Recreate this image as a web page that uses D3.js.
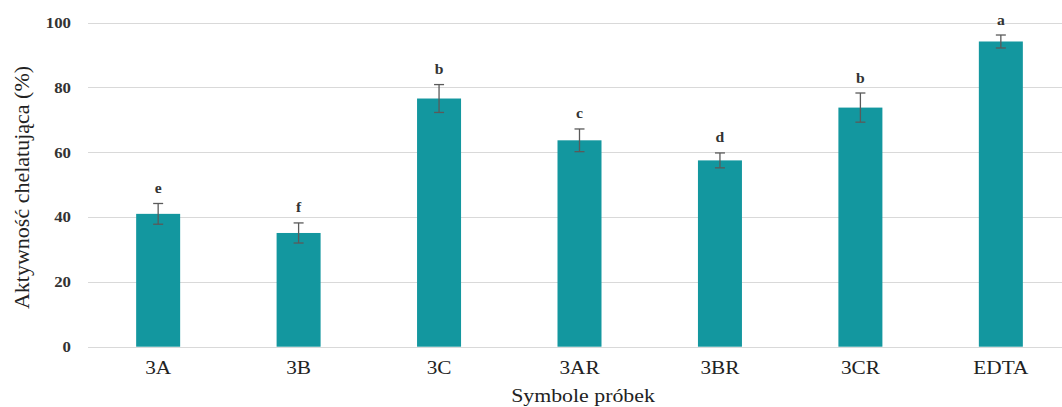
<!DOCTYPE html>
<html>
<head>
<meta charset="utf-8">
<script src="https://cdn.jsdelivr.net/npm/d3@7"></script>
<style>
  html, body { margin: 0; padding: 0; background: #fff; }
  svg { display: block; }
</style>
</head>
<body>
<svg id="chart" width="1062" height="407"></svg>
<script>
// Chelating activity of samples (%), mean ± error, with significance letters
const categories = ["3A", "3B", "3C", "3AR", "3BR", "3CR", "EDTA"];
const values = [41.0, 35.1, 76.6, 63.7, 57.5, 73.8, 94.2];
const errors = [3.2, 3.1, 4.3, 3.5, 2.3, 4.5, 2.0];
const letters = ["e", "f", "b", "c", "d", "b", "a"];
const yTicks = [0, 20, 40, 60, 80, 100];

const svg = d3.select("#chart");
const W = 1062;
const serif = "'Liberation Serif', 'Times New Roman', serif";
const wide = "scale(1.12,1)"; // slightly widened lettering

const x = d3.scaleBand().domain(categories).range([88, 1071]).paddingInner(0.687).paddingOuter(0.343);
const y = d3.scaleLinear().domain([0, 100]).range([346.7, 22.7]);

// horizontal gridlines
svg.append("g")
  .selectAll("line")
  .data(yTicks)
  .join("line")
  .attr("x1", 88).attr("x2", W)
  .attr("y1", d => Math.round(y(d)) + 0.5).attr("y2", d => Math.round(y(d)) + 0.5)
  .attr("stroke", "#d9d9d9").attr("stroke-width", 1);

// y axis tick labels
const yAxis = d3.axisLeft(y).tickValues(yTicks).tickSize(0).tickPadding(0);
const gy = svg.append("g").attr("transform", "translate(71,0)").call(yAxis);
gy.select(".domain").remove();
gy.selectAll("text")
  .attr("font-family", serif).attr("font-size", 15).attr("font-weight", "bold")
  .attr("fill", "#333").attr("transform", wide);

// bars
const barW = 44;
svg.append("g")
  .selectAll("rect")
  .data(categories)
  .join("rect")
  .attr("x", d => x(d) + x.bandwidth() / 2 - barW / 2)
  .attr("width", barW)
  .attr("y", (d, i) => y(values[i]))
  .attr("height", (d, i) => y(0) - y(values[i]))
  .attr("fill", "#13979f");

// error bars
const eb = svg.append("g").attr("stroke", "#5a5a5a").attr("stroke-width", 1.3);
categories.forEach((c, i) => {
  const cx = x(c) + x.bandwidth() / 2;
  const top = y(values[i] + errors[i]);
  const bot = y(values[i] - errors[i]);
  eb.append("line").attr("x1", cx).attr("x2", cx).attr("y1", top).attr("y2", bot);
  eb.append("line").attr("x1", cx - 5).attr("x2", cx + 5).attr("y1", top).attr("y2", top);
  eb.append("line").attr("x1", cx - 5).attr("x2", cx + 5).attr("y1", bot).attr("y2", bot);
});

// significance letters
svg.append("g")
  .selectAll("text")
  .data(categories)
  .join("text")
  .attr("transform", (d, i) =>
    `translate(${x(d) + x.bandwidth() / 2},${y(values[i] + errors[i]) - 10.5}) ${wide}`)
  .attr("text-anchor", "middle")
  .attr("font-family", serif).attr("font-size", 14).attr("font-weight", "bold")
  .attr("fill", "#333")
  .text((d, i) => letters[i]);

// x axis category labels
const xAxis = d3.axisBottom(x).tickSize(0).tickPadding(0);
const gx = svg.append("g").attr("transform", "translate(0,373.5)").call(xAxis);
gx.select(".domain").remove();
gx.selectAll("text")
  .attr("font-family", serif).attr("font-size", 19)
  .attr("fill", "#222").attr("dy", 0).attr("y", 0).attr("transform", wide);

// axis titles
svg.append("text")
  .attr("transform", `translate(583,402) ${wide}`)
  .attr("text-anchor", "middle")
  .attr("font-family", serif).attr("font-size", 19.5).attr("fill", "#222")
  .text("Symbole próbek");

svg.append("text")
  .attr("transform", "translate(29,187.5) rotate(-90)")
  .attr("text-anchor", "middle")
  .attr("font-family", serif).attr("font-size", 22).attr("fill", "#222")
  .text("Aktywność chelatująca (%)");
</script>
</body>
</html>
